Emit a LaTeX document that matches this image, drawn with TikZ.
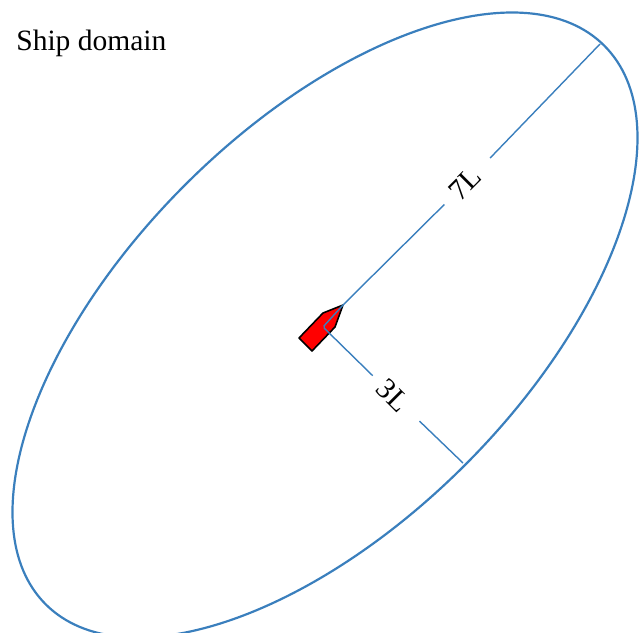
\documentclass[tikz,border=0pt]{standalone}
\usepackage{fontspec}
\setmainfont{Liberation Serif}
\begin{document}
\begin{tikzpicture}[x=0.02cm,y=-0.02cm,font=\fontsize{16.8}{19}\selectfont,dimline/.style={draw=axisblue,line width=.8pt},lab/.style={inner sep=0pt,minimum width=1.29cm,minimum height=.6cm}]
\definecolor{axisblue}{HTML}{3A7FBD}
\useasboundingbox (0,0) rectangle (640,633);
\draw[axisblue,line width=1.25pt,rotate around={45:(325,325)}] (325,325) ellipse [x radius=395,y radius=198];
\node[anchor=west,inner sep=0pt] (title) at (16,43) {Ship domain};
\coordinate (tip) at (343,305);
\coordinate (corner) at (323,327);
\coordinate (major) at (600,44);
\coordinate (minor) at (463,463);
\node[lab,rotate=45] (seven) at (467.5,181.5) {\raisebox{-1.2pt}{7L}\hspace*{4pt}};
\node[lab,rotate=-45] (three) at (396,398.5) {\raisebox{-5.6pt}{3L}\hspace*{4.6pt}};
\draw[fill=red,draw=black,line width=.9pt,line join=round] (tip) -- (323,313) -- (299,338) -- (312,351) -- (335,327) -- cycle;
\draw[dimline] (major) -- (seven);
\draw[dimline,rounded corners=1pt] (seven) -- (tip) -- (corner) -- (three);
\draw[dimline] (three) -- (minor);
\end{tikzpicture}
\end{document}
